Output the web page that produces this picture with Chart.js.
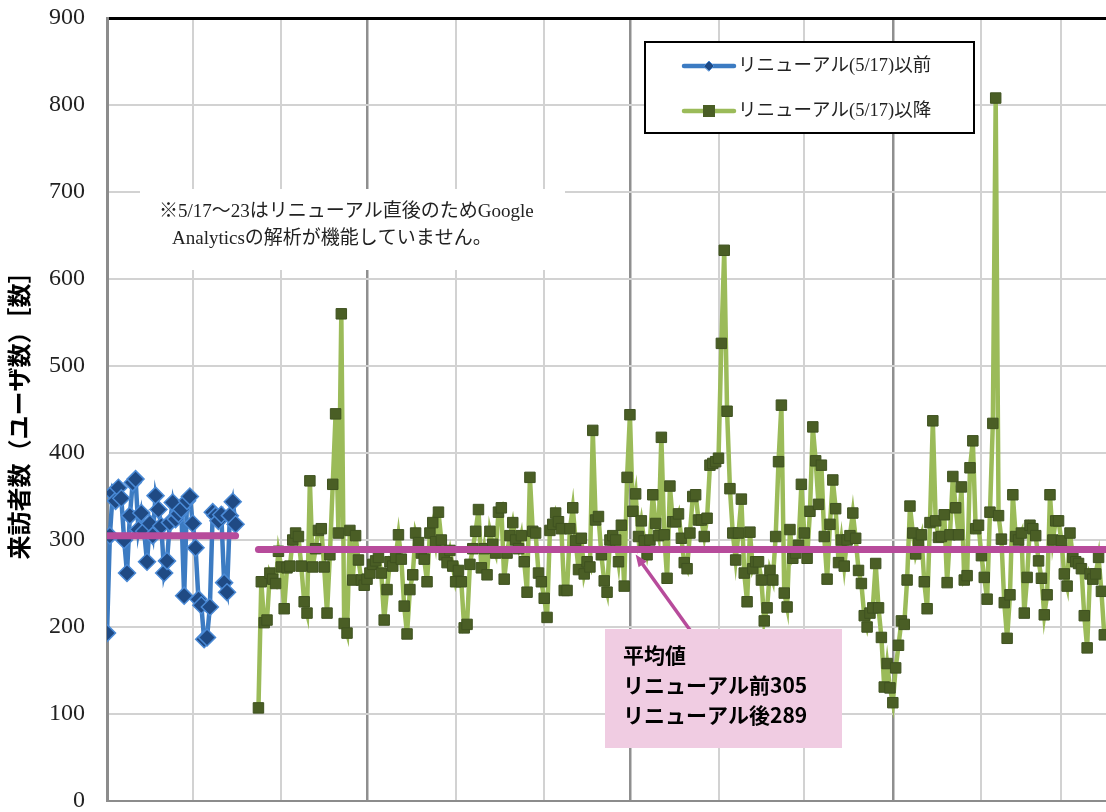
<!DOCTYPE html>
<html lang="ja">
<head>
<meta charset="utf-8">
<title>来訪者数の推移</title>
<script src="https://cdn.jsdelivr.net/npm/chart.js@4.4.1/dist/chart.umd.min.js"></script>
<style>
  html, body { margin: 0; padding: 0; background: #fff; overflow: hidden; width: 1106px; height: 812px; }
  #wrap { position: absolute; left: 0; top: 0; width: 1160px; height: 812px; }
</style>
</head>
<body>
<div id="wrap"><canvas id="c" width="1160" height="812"></canvas></div>
<script>
// Day numbers are counted from April 1 (day 0).
const monthStartDays = [0, 30, 61, 91, 122, 153, 183, 214, 244, 275, 306, 334, 365];
const quarterStartDays = [91, 183, 275];

// Daily visitors before the renewal (Apr 1 - May 16)
const beforeStartDay = 0;
const beforeVisitors = [
  193, 305, 354, 345, 360, 348, 300, 262, 328, 366,
  370, 312, 331, 310, 275, 319, 305, 351, 335, 316,
  262, 276, 320, 343, 324, 330, 335, 236, 345, 350,
  319, 291, 232, 225, 186, 188, 223, 332, 328, 322,
  329, 251, 240, 328, 344, 318
];

// Daily visitors after the renewal (from May 24)
const afterStartDay = 53;
const afterVisitors = [
  107, 252, 205, 208, 262, 255, 250, 287, 269, 221,
  268, 270, 300, 308, 304, 270, 229, 216, 368, 269,
  290, 311, 313, 269, 216, 283, 364, 445, 308, 560,
  204, 193, 311, 254, 305, 277, 254, 248, 255, 262,
  272, 276, 280, 262, 208, 243, 275, 270, 280, 306,
  278, 224, 192, 243, 260, 308, 297, 285, 278, 252,
  308, 320, 298, 332, 300, 283, 274, 288, 270, 252,
  265, 252, 199, 203, 272, 290, 310, 335, 268, 290,
  260, 310, 295, 285, 332, 337, 255, 285, 305, 320,
  300, 290, 305, 275, 240, 372, 310, 308, 262, 252,
  233, 211, 311, 318, 331, 321, 313, 242, 242, 313,
  337, 299, 266, 302, 261, 275, 269, 426, 323, 327,
  283, 253, 240, 300, 305, 300, 275, 317, 247, 372,
  444, 333, 353, 304, 322, 299, 283, 300, 352, 319,
  305, 418, 306, 256, 362, 321, 321, 330, 302, 274,
  267, 308, 350, 352, 323, 323, 304, 325, 386, 388,
  390, 394, 526, 633, 448, 359, 308, 277, 308, 347,
  262, 229, 309, 267, 275, 275, 254, 207, 222, 265,
  254, 304, 390, 455, 239, 223, 312, 279, 285, 294,
  364, 308, 279, 333, 430, 391, 341, 386, 304, 255,
  318, 369, 336, 274, 300, 270, 300, 305, 331, 302,
  265, 250, 213, 200, 216, 222, 273, 222, 188, 131,
  158, 130, 113, 153, 179, 207, 203, 254, 339, 308,
  284, 296, 306, 252, 221, 320, 437, 322, 303, 304,
  329, 251, 306, 373, 337, 306, 361, 254, 259, 383,
  414, 313, 317, 282, 257, 232, 332, 434, 808, 328,
  301, 228, 187, 237, 352, 304, 300, 308, 216, 257,
  317, 313, 305, 276, 256, 214, 237, 352, 300, 322,
  322, 299, 261, 247, 308, 280, 275, 273, 267, 213,
  176, 261, 255, 261, 280, 241, 191
];

// Averages before / after the renewal
const avgBefore = 305;
const avgAfter = 289;

const seriesNames = ['リニューアル(5/17)以前', 'リニューアル(5/17)以降'];
const yTitle = '来訪者数（ユーザ数）［数］';
const noteLines = ['※5/17～23はリニューアル直後のためGoogle', 'Analyticsの解析が機能していません。'];
const avgLines = ['平均値', 'リニューアル前' + avgBefore, 'リニューアル後' + avgAfter];

const SERIF = "'Liberation Serif', 'Noto Sans CJK JP', serif";
const GOTHIC = "'Noto Sans CJK JP', sans-serif";

const BLUE_LINE = '#3c7bc2', BLUE_FILL = '#1f4a84', BLUE_EDGE = '#4a8ad6';
const GREEN_LINE = '#9bbb59', GREEN_FILL = '#4a5e25', GREEN_EDGE = '#3f5220';
const AVG_COLOR = '#b74b9b';

const toPoints = (start, values) => values.map((v, i) => ({ x: start + i, y: v }));
const beforeLastDay = beforeStartDay + beforeVisitors.length - 1;

function drawDiamond(ctx, x, y, r) {
  ctx.beginPath();
  ctx.moveTo(x - r, y); ctx.lineTo(x, y - r); ctx.lineTo(x + r, y); ctx.lineTo(x, y + r);
  ctx.closePath();
}

const overlays = {
  id: 'overlays',
  beforeDatasetsDraw(chart) {
    const ctx = chart.ctx;
    ctx.save();
    // note box
    ctx.fillStyle = '#fff';
    ctx.fillRect(140, 189, 425, 81);
    ctx.fillStyle = '#222';
    ctx.font = '19px ' + SERIF;
    ctx.textBaseline = 'middle';
    ctx.fillText(noteLines[0], 159, 212);
    ctx.fillText(noteLines[1], 172, 239);
    ctx.restore();
  },
  afterDraw(chart) {
    const ctx = chart.ctx;
    const xs = chart.scales.x, ys = chart.scales.y;
    ctx.save();

    // legend
    ctx.fillStyle = '#fff';
    ctx.fillRect(645, 42, 329, 91);
    ctx.strokeStyle = '#000';
    ctx.lineWidth = 2;
    ctx.strokeRect(645, 42, 329, 91);
    ctx.lineCap = 'round';
    const rows = [66, 111];
    // blue entry
    ctx.strokeStyle = BLUE_LINE; ctx.lineWidth = 4.5;
    ctx.beginPath(); ctx.moveTo(684, rows[0]); ctx.lineTo(734, rows[0]); ctx.stroke();
    drawDiamond(ctx, 709, rows[0], 5);
    ctx.fillStyle = BLUE_FILL; ctx.fill();
    ctx.lineWidth = 1; ctx.strokeStyle = BLUE_EDGE; ctx.stroke();
    // green entry
    ctx.strokeStyle = GREEN_LINE; ctx.lineWidth = 4.5;
    ctx.beginPath(); ctx.moveTo(684, rows[1]); ctx.lineTo(734, rows[1]); ctx.stroke();
    ctx.fillStyle = GREEN_FILL; ctx.fillRect(703, rows[1] - 6, 12, 12);
    ctx.fillStyle = '#222';
    ctx.font = '18.5px ' + SERIF;
    ctx.textBaseline = 'middle';
    ctx.fillText(seriesNames[0], 738, rows[0]);
    ctx.fillText(seriesNames[1], 738, rows[1]);

    // pointer from the average box to the "after" average line
    const tipX = xs.getPixelForValue(185);
    const tipY = ys.getPixelForValue(avgAfter) + 5;
    const baseX = 690, baseY = 630;
    ctx.strokeStyle = AVG_COLOR; ctx.fillStyle = AVG_COLOR;
    ctx.lineWidth = 3.5; ctx.lineCap = 'butt';
    const ang = Math.atan2(tipY - baseY, tipX - baseX);
    ctx.beginPath();
    ctx.moveTo(baseX, baseY);
    ctx.lineTo(tipX - Math.cos(ang) * 8, tipY - Math.sin(ang) * 8);
    ctx.stroke();
    ctx.beginPath();
    ctx.moveTo(tipX, tipY);
    ctx.lineTo(tipX - Math.cos(ang) * 12 + Math.sin(ang) * 5, tipY - Math.sin(ang) * 12 - Math.cos(ang) * 5);
    ctx.lineTo(tipX - Math.cos(ang) * 12 - Math.sin(ang) * 5, tipY - Math.sin(ang) * 12 + Math.cos(ang) * 5);
    ctx.closePath(); ctx.fill();

    // average box
    ctx.fillStyle = '#f0cce2';
    ctx.fillRect(605, 629, 237, 119);
    ctx.fillStyle = '#000';
    ctx.font = 'bold 21px ' + GOTHIC;
    ctx.textBaseline = 'middle';
    avgLines.forEach((t, i) => ctx.fillText(t, 623, 655 + i * 30));
    ctx.restore();
  }
};

new Chart(document.getElementById('c'), {
  type: 'line',
  data: {
    datasets: [
      {
        label: 'avgBefore',
        data: [{ x: beforeStartDay, y: avgBefore }, { x: beforeLastDay, y: avgBefore }],
        borderColor: AVG_COLOR, borderWidth: 7, borderCapStyle: 'round',
        pointRadius: 0, order: 0
      },
      {
        label: 'avgAfter',
        data: [{ x: afterStartDay, y: avgAfter }, { x: monthStartDays[monthStartDays.length - 1], y: avgAfter }],
        borderColor: AVG_COLOR, borderWidth: 7, borderCapStyle: 'round',
        pointRadius: 0, order: 0
      },
      {
        label: seriesNames[0],
        data: toPoints(beforeStartDay, beforeVisitors),
        borderColor: BLUE_LINE, borderWidth: 4.5,
        pointStyle: 'rectRot', pointRadius: 8.5,
        pointBackgroundColor: BLUE_FILL, pointBorderColor: BLUE_EDGE, pointBorderWidth: 1.5,
        order: 1
      },
      {
        label: seriesNames[1],
        data: toPoints(afterStartDay, afterVisitors),
        borderColor: GREEN_LINE, borderWidth: 4.5,
        pointStyle: 'rect', pointRadius: 7.4,
        pointBackgroundColor: GREEN_FILL, pointBorderColor: GREEN_EDGE, pointBorderWidth: 1,
        order: 2
      }
    ]
  },
  options: {
    responsive: false,
    animation: false,
    devicePixelRatio: 1,
    layout: { padding: { top: 18, bottom: 11, left: 0, right: 8 } },
    plugins: { legend: { display: false }, tooltip: { enabled: false } },
    scales: {
      x: {
        type: 'linear', min: 0, max: monthStartDays[monthStartDays.length - 1],
        afterBuildTicks(s) { s.ticks = monthStartDays.map(v => ({ value: v })); },
        afterFit(s) { s.height = 0; s.paddingLeft = 0; s.paddingRight = 0; },
        ticks: { display: false },
        grid: {
          drawTicks: false,
          color: c => c.tick.value === 0 ? 'rgba(0,0,0,0)' : (quarterStartDays.includes(c.tick.value) ? '#8f8f8f' : '#d2d2d2'),
          lineWidth: c => quarterStartDays.includes(c.tick.value) ? 2.5 : 2
        },
        border: { display: true, color: '#8c8c8c', width: 2 }
      },
      y: {
        min: 0, max: 900,
        afterFit(s) { s.width = 107; s.paddingTop = 0; s.paddingBottom = 0; },
        ticks: { stepSize: 100, padding: 22, color: '#222', font: { family: SERIF, size: 24 } },
        grid: {
          drawTicks: false,
          color: c => c.tick.value === 900 ? '#000' : (c.tick.value === 0 ? 'rgba(0,0,0,0)' : '#d2d2d2'),
          lineWidth: c => c.tick.value === 900 ? 3 : 2
        },
        border: { display: true, color: '#8c8c8c', width: 3 },
        title: {
          display: true, text: yTitle, color: '#000',
          font: { family: GOTHIC, size: 24, weight: 'bold' },
          padding: { top: 4, bottom: 0 }
        }
      }
    }
  },
  plugins: [overlays]
});
</script>
</body>
</html>
